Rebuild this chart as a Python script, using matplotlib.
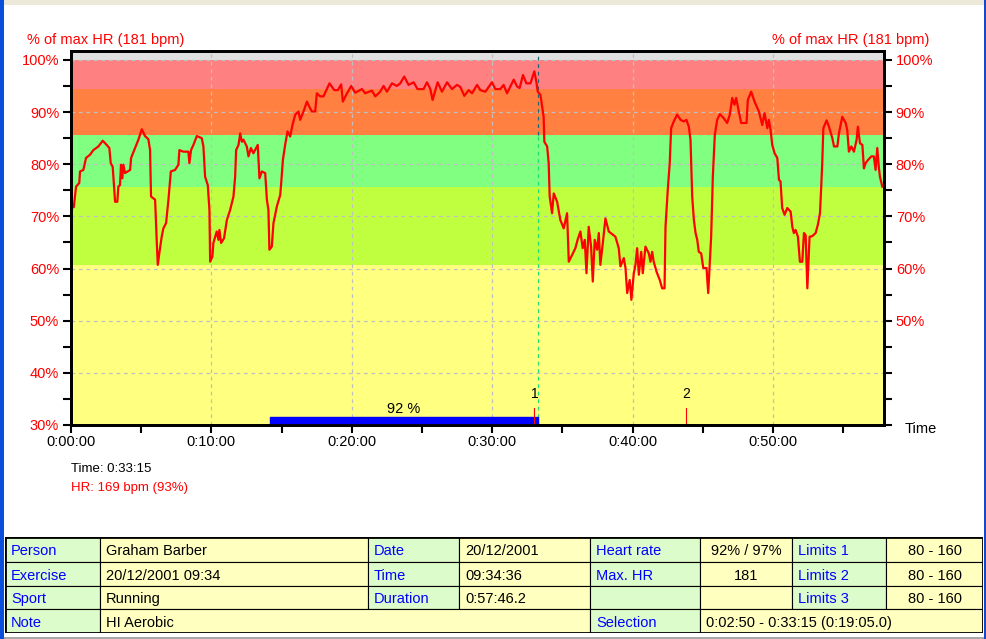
import matplotlib
matplotlib.use('Agg')
import matplotlib.pyplot as plt
from matplotlib.patches import Rectangle
from matplotlib.ticker import FuncFormatter, MultipleLocator

plt.rcParams['font.family'] = ['Liberation Sans', 'DejaVu Sans']
plt.rcParams['font.size'] = 10.5

# heart rate trace, time in minutes, value in % of max HR (181 bpm)
time_min = [
	0.00, 0.20, 0.36, 0.59, 0.64, 0.88, 1.07, 1.35, 1.59, 1.95, 2.26, 2.54, 2.73, 2.83, 2.97, 3.06,
	3.14, 3.30, 3.37, 3.49, 3.56, 3.66, 3.73, 3.85, 4.21, 4.28, 4.56, 4.80, 5.04, 5.27, 5.51, 5.63,
	5.70, 5.99, 6.11, 6.18, 6.34, 6.46, 6.58, 6.77, 6.94, 7.11, 7.41, 7.65, 7.72, 8.00, 8.36, 8.43,
	8.55, 8.72, 8.96, 9.31, 9.43, 9.55, 9.74, 9.86, 9.91, 10.07, 10.14, 10.38, 10.50, 10.57, 10.69,
	10.90, 11.10, 11.33, 11.57, 11.69, 11.76, 11.93, 12.05, 12.17, 12.28, 12.52, 12.64, 12.81, 12.99,
	13.30, 13.42, 13.59, 13.83, 13.95, 14.06, 14.13, 14.30, 14.42, 14.66, 14.90, 14.97, 15.09, 15.25,
	15.42, 15.61, 15.77, 15.97, 16.20, 16.32, 16.56, 16.80, 17.03, 17.16, 17.39, 17.51, 17.75, 17.98,
	18.41, 18.75, 19.01, 19.24, 19.36, 19.60, 19.96, 20.24, 20.72, 20.95, 21.43, 21.67, 22.02, 22.26,
	22.50, 22.86, 23.21, 23.45, 23.73, 24.04, 24.40, 24.68, 25.11, 25.35, 25.59, 25.75, 26.11, 26.42,
	26.78, 27.13, 27.49, 27.73, 28.01, 28.32, 28.56, 28.92, 29.15, 29.51, 29.98, 30.22, 30.58, 30.81,
	31.05, 31.29, 31.53, 31.77, 31.95, 32.19, 32.43, 32.72, 33.00, 33.14, 33.24, 33.43, 33.66, 33.71,
	33.91, 34.02, 34.09, 34.26, 34.38, 34.62, 34.85, 35.09, 35.33, 35.45, 35.69, 35.92, 36.09, 36.28,
	36.44, 36.59, 36.71, 36.87, 37.04, 37.16, 37.30, 37.47, 37.59, 37.70, 37.90, 38.06, 38.30, 38.77,
	39.01, 39.13, 39.37, 39.49, 39.61, 39.79, 39.91, 40.08, 40.20, 40.32, 40.44, 40.61, 40.72, 40.91,
	41.15, 41.27, 41.39, 41.50, 41.70, 41.93, 42.10, 42.27, 42.34, 42.50, 42.64, 42.74, 42.93, 43.17,
	43.41, 43.64, 43.83, 44.00, 44.12, 44.24, 44.36, 44.48, 44.60, 44.71, 44.88, 45.03, 45.26, 45.38,
	45.47, 45.59, 45.71, 45.85, 46.02, 46.21, 46.49, 46.73, 46.92, 47.09, 47.25, 47.37, 47.56, 47.73,
	48.11, 48.20, 48.44, 48.68, 48.99, 49.23, 49.39, 49.59, 49.70, 49.82, 49.94, 50.11, 50.30, 50.42,
	50.53, 50.65, 50.82, 51.01, 51.25, 51.37, 51.48, 51.60, 51.77, 51.91, 52.08, 52.20, 52.32, 52.44,
	52.60, 52.79, 53.03, 53.19, 53.34, 53.43, 53.51, 53.58, 53.81, 53.98, 54.22, 54.34, 54.58, 54.69,
	54.93, 55.17, 55.28, 55.40, 55.57, 55.76, 55.95, 56.04, 56.19, 56.36, 56.47, 56.59, 56.76, 57.00,
	57.18, 57.30, 57.42, 57.54, 57.61, 57.78,
]
hr_pct = [
	71.5, 71.8, 75.7, 76.4, 78.6, 78.9, 81.2, 81.8, 82.7, 83.4, 84.5, 83.7, 83.1, 80.2, 79.5, 76.0,
	72.8, 72.8, 75.7, 76.0, 79.9, 77.3, 79.9, 78.3, 78.9, 81.2, 83.1, 84.7, 86.7, 85.4, 84.8, 82.7,
	73.8, 73.2, 64.9, 60.7, 63.9, 66.1, 67.7, 68.7, 73.2, 78.6, 78.9, 79.9, 82.7, 82.4, 82.4, 80.2,
	82.7, 83.7, 85.4, 85.0, 83.4, 77.6, 76.0, 71.2, 61.3, 62.3, 64.9, 67.1, 65.5, 67.4, 64.9,
	65.8, 69.3, 71.2, 73.8, 77.6, 82.7, 83.7, 85.9, 84.3, 84.7, 83.4, 81.5, 83.1, 82.1,
	83.7, 77.3, 78.6, 78.3, 73.2, 71.2, 63.6, 64.2, 68.7, 71.9, 74.1, 76.4, 80.8, 83.7,
	86.3, 85.3, 87.5, 89.5, 90.1, 88.5, 90.1, 92.0, 90.7, 90.1, 90.1, 93.6, 93.0, 93.0,
	95.5, 94.2, 94.2, 95.3, 92.0, 93.3, 95.0, 93.7, 94.4, 93.6, 94.1, 93.0, 93.9, 95.0,
	93.9, 95.5, 95.0, 95.5, 96.8, 95.2, 95.7, 94.4, 94.4, 95.7, 94.4, 92.3, 95.7, 93.9,
	95.7, 94.4, 95.2, 94.8, 93.1, 94.2, 93.6, 95.2, 94.2, 93.9, 95.7, 94.4, 94.4, 95.2,
	93.6, 94.9, 96.2, 94.9, 94.6, 97.1, 95.5, 95.5, 97.8, 95.8, 93.9, 93.3, 89.1, 84.3,
	83.4, 80.2, 73.8, 70.6, 74.4, 72.8, 69.3, 67.7, 70.6, 61.3, 62.6, 63.9, 65.6, 67.1,
	63.9, 65.5, 59.1, 68.0, 64.2, 57.5, 65.5, 63.6, 66.8, 60.7, 65.5, 69.6, 67.1, 66.1,
	63.9, 60.4, 62.0, 60.1, 55.3, 57.8, 54.0, 59.1, 60.7, 63.9, 58.8, 63.2, 59.1, 64.2,
	62.9, 61.3, 63.2, 61.3, 59.4, 57.8, 56.2, 56.2, 68.0, 75.1, 80.2, 86.9, 88.2, 89.5,
	88.5, 88.2, 88.5, 87.2, 84.7, 73.8, 69.3, 66.8, 65.5, 63.2, 62.9, 60.1, 60.1, 55.3,
	60.1, 66.1, 77.6, 85.6, 88.5, 89.6, 88.8, 87.9, 89.5, 92.7, 91.4, 92.7, 90.1, 87.9,
	87.9, 92.3, 93.9, 92.0, 90.1, 87.5, 89.8, 86.9, 88.5, 86.6, 83.7, 82.1, 81.2, 77.0,
	76.7, 71.6, 70.3, 71.6, 70.9, 68.0, 66.8, 67.4, 66.1, 61.3, 61.3, 66.8, 66.4, 56.2,
	66.1, 66.2, 66.8, 68.4, 70.6, 75.7, 80.8, 86.9, 88.4, 87.2, 85.0, 83.4, 83.4, 85.9,
	89.1, 87.9, 86.6, 82.4, 83.4, 82.4, 84.7, 87.2, 84.0, 83.7, 79.2, 80.2, 80.8, 81.5,
	81.5, 78.9, 83.1, 79.2, 77.6, 75.7,
]

duration_min = 57.9
zone_edges = [30, 60.7, 75.6, 85.6, 94.4, 100]
zone_colors = ['#ffff80', '#c0ff40', '#80ff80', '#ff8040', '#ff8080']

sel_start, sel_end, sel_pct = 14.17, 33.25, 92
laps = [33.0, 43.8]
cursor_time = 33.25
cursor_text = ['Time: 0:33:15', 'HR: 169 bpm (93%)']

table_rows = [
	['Person', 'Graham Barber', 'Date', '20/12/2001', 'Heart rate', '92% / 97%', 'Limits 1', '80 - 160'],
	['Exercise', '20/12/2001 09:34', 'Time', '09:34:36', 'Max. HR', '181', 'Limits 2', '80 - 160'],
	['Sport', 'Running', 'Duration', '0:57:46.2', '', '', 'Limits 3', '80 - 160'],
	['Note', 'HI Aerobic', None, None, 'Selection', '0:02:50 - 0:33:15 (0:19:05.0)', None, None],
]

W, H = 986, 639


def fx(x):
	return x / W


def fy(y):
	return 1 - y / H


def fig_rect(fig, x0, y0, x1, y1, color):
	fig.patches.append(Rectangle((fx(x0), fy(y1)), (x1 - x0) / W, (y1 - y0) / H,
		transform=fig.transFigure, facecolor=color, edgecolor='none', zorder=0))


fig = plt.figure(figsize=(W / 100, H / 100), dpi=100)
fig.patch.set_facecolor('white')

# window chrome
fig_rect(fig, 0, 0, W, 5, '#ece9d8')
fig_rect(fig, 0, 0, 3.5, H, '#0a4fdc')
fig_rect(fig, 984, 0, W, H, '#1a46c8')
fig_rect(fig, 3.5, 636.5, 984, 638.5, '#a8a8a8')

ax = fig.add_axes([fx(71), fy(425), (884 - 71) / W, (425 - 51) / H])
ymax = 101.7
ax.set_xlim(0, duration_min)
ax.set_ylim(30, ymax)

ax.axhspan(100, ymax, color='#e0e0e0', lw=0, zorder=0)
for lo, hi, c in zip(zone_edges[:-1], zone_edges[1:], zone_colors):
	ax.axhspan(lo, hi, color=c, lw=0, zorder=0)

for v in range(40, 101, 10):
	ax.axhline(v, color='#c0c0c0', lw=0.9, dashes=(3, 3), zorder=1)
for t in range(10, int(duration_min) + 1, 10):
	ax.axvline(t, color='#c0c0c0', lw=0.9, dashes=(3, 3), zorder=1)

# cursor line
ax.plot([cursor_time, cursor_time], [30, zone_edges[3]], color='#20e070', lw=0.9, dashes=(3, 3), zorder=2)
ax.plot([cursor_time, cursor_time], [zone_edges[3], ymax], color='#1f6878', lw=0.9, dashes=(3, 3), zorder=2)

ax.plot(time_min, hr_pct, color='#ff0000', lw=1.6, zorder=4)

# selection bar
ax.broken_barh([(sel_start, sel_end - sel_start)], (30, 1.5), color='#0000ff', zorder=3)
ax.text((sel_start + sel_end) / 2, 33.1, f'{sel_pct} %', ha='center', va='center', color='black')

for i, t in enumerate(laps):
	ax.plot([t, t], [30, 33.2], color='#ff0000', lw=0.8, zorder=3)
	ax.text(t, 36.0, str(i + 1), ha='center', va='center', fontsize=10)

ax.xaxis.set_major_locator(MultipleLocator(10))
ax.xaxis.set_minor_locator(MultipleLocator(5))
ax.xaxis.set_major_formatter(FuncFormatter(lambda v, p: f'{int(v // 60)}:{int(v % 60):02d}:00'))
ax.yaxis.set_major_locator(MultipleLocator(10))
ax.yaxis.set_minor_locator(MultipleLocator(5))
ax.yaxis.set_major_formatter(FuncFormatter(lambda v, p: f'{v:.0f}%'))
ax.tick_params(axis='both', which='both', direction='out', length=5.5, width=1.5, color='black')
ax.tick_params(axis='y', labelcolor='#ff0000', pad=3)
ax.tick_params(axis='x', pad=2)

ax2 = ax.twinx()
ax2.set_ylim(30, ymax)
ax2.yaxis.set_major_locator(MultipleLocator(10))
ax2.yaxis.set_minor_locator(MultipleLocator(5))
ax2.yaxis.set_major_formatter(FuncFormatter(lambda v, p: f'{v:.0f}%' if v >= 50 else ''))
ax2.tick_params(axis='y', which='both', direction='out', length=5.5, width=1.5,
	labelcolor='#ff0000', pad=3)

for a in (ax, ax2):
	for s in a.spines.values():
		s.set_linewidth(2)
		s.set_color('black')

fig.text(fx(27), fy(40), '% of max HR (181 bpm)', color='#ff0000', ha='left', va='center')
fig.text(fx(929), fy(40), '% of max HR (181 bpm)', color='#ff0000', ha='right', va='center')
fig.text(fx(905), fy(429), 'Time', color='black', ha='left', va='center')
fig.text(fx(71), fy(469.5), cursor_text[0], color='black', ha='left', va='center', fontsize=9.5)
fig.text(fx(71), fy(487.5), cursor_text[1], color='#ff0000', ha='left', va='center', fontsize=9.5)

# info table
col_edges = [5, 100, 368, 459, 590, 700, 792, 886, 983]
row_edges = [537, 561.5, 585.5, 609.3, 633]
tab = fig.add_axes([fx(5), fy(633), (983 - 5) / W, (633 - 537) / H])
tab.set_xlim(5, 983)
tab.set_ylim(633, 537)
tab.axis('off')
label_bg, value_bg = '#dcfccc', '#ffffc0'
centered_cols = {5, 7}
for r, row in enumerate(table_rows):
	y0, y1 = row_edges[r], row_edges[r + 1]
	c = 0
	while c < len(row):
		span = 1
		while c + span < len(row) and row[c + span] is None:
			span += 1
		x0, x1 = col_edges[c], col_edges[c + span]
		is_label = c % 2 == 0
		tab.add_patch(Rectangle((x0, y0), x1 - x0, y1 - y0, facecolor=label_bg if is_label else value_bg,
			edgecolor='black', lw=0.8, zorder=1))
		if c in centered_cols and span == 1:
			tab.text((x0 + x1) / 2, (y0 + y1) / 2 + 2, row[c], ha='center', va='center', color='black')
		else:
			tab.text(x0 + 6, (y0 + y1) / 2 + 2, row[c], ha='left', va='center',
				color='#0000ff' if is_label else 'black')
		c += span
tab.add_patch(Rectangle((5, 537), 978, 96, facecolor='none', edgecolor='black', lw=2, zorder=2))

fig.savefig('out.png', dpi=100)
